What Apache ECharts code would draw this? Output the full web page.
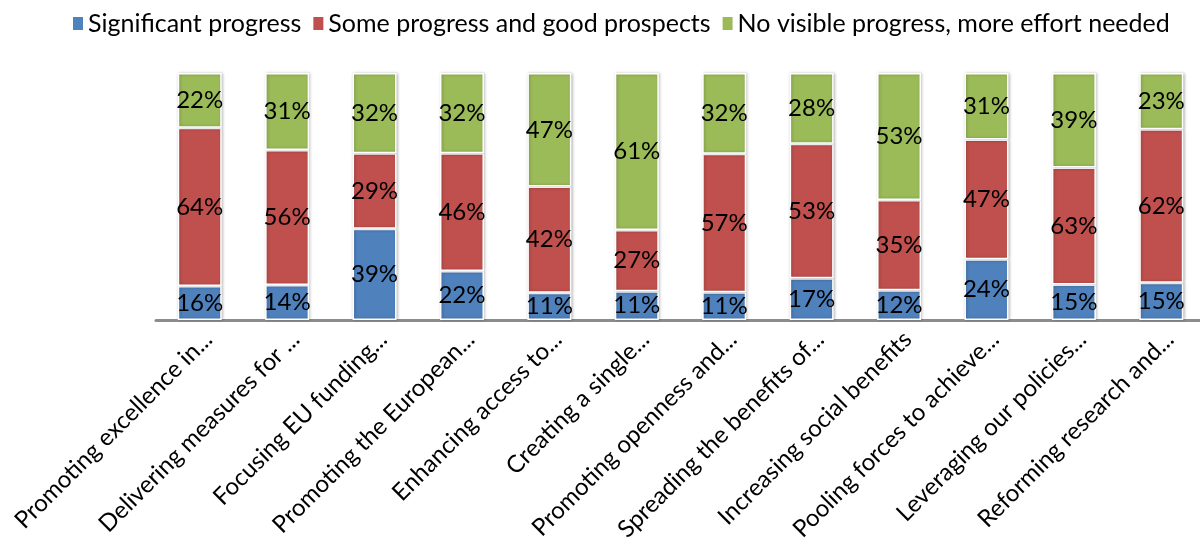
<!DOCTYPE html>
<html>
<head>
<meta charset="utf-8">
<script src="https://cdn.jsdelivr.net/npm/echarts@6/dist/echarts.min.js"></script>
<style>html,body{margin:0;padding:0;background:#fff}#c{width:1200px;height:547px}</style>
</head>
<body>
<div id="c"></div>
<script>
const categories = ["Promoting excellence in...", "Delivering measures for ...", "Focusing EU funding...", "Promoting the European...", "Enhancing access to...", "Creating a single...", "Promoting openness and...", "Spreading the benefits of...", "Increasing social benefits", "Pooling forces to achieve...", "Leveraging our policies...", "Reforming research and..."];
const seriesNames = ["Significant progress", "Some progress and good prospects", "No visible progress, more effort needed"];
// bar heights as drawn (share of the 100% column)
const significant = [13.8, 14.2, 36.9, 19.8, 11.0, 11.6, 11.2, 16.9, 12.0, 24.6, 14.4, 15.1];
const someProgress = [64.0, 54.6, 30.6, 47.7, 43.0, 24.8, 56.1, 54.5, 36.6, 48.5, 47.3, 62.1];
const noProgress = [22.2, 31.2, 32.5, 32.5, 46.0, 63.6, 32.7, 28.6, 51.4, 26.9, 38.3, 22.8];
// percentages printed on the segments
const significantLabels = [16, 14, 39, 22, 11, 11, 11, 17, 12, 24, 15, 15];
const someProgressLabels = [64, 56, 29, 46, 42, 27, 57, 53, 35, 47, 63, 62];
const noProgressLabels = [22, 31, 32, 32, 47, 61, 32, 28, 53, 31, 39, 23];
const colors = ["#4F81BD", "#C0504D", "#9BBB59"];

const FONT = "Lato";
function mk(name, data, labels, color) {
  return {
    name: name, type: "bar", stack: "total", data: data, barWidth: 44,
    itemStyle: { color: color, borderColor: "#ffffff", borderWidth: 1.5,
      shadowColor: "rgba(0,0,0,0.25)", shadowBlur: 3, shadowOffsetX: 1, shadowOffsetY: 0 },
    label: { show: true, position: "inside", color: "#000", fontFamily: FONT, fontSize: 24,
      formatter: p => labels[p.dataIndex] + "%" }
  };
}
const chart = echarts.init(document.getElementById("c"), null, { renderer: "canvas" });
chart.setOption({
  animation: false,
  backgroundColor: "#ffffff",
  legend: {
    top: 6, left: 66, itemWidth: 12, itemHeight: 15, itemGap: 10,
    icon: "rect",
    textStyle: { fontFamily: FONT, fontSize: 25, color: "#000", padding: [0, 0, 0, -1] },
    data: seriesNames
  },
  grid: { left: 156, width: 1049, top: 73, height: 247, containLabel: false, outerBoundsMode: "none" },
  xAxis: {
    type: "category", data: categories,
    axisLine: { lineStyle: { color: "#8C8C8C", width: 3 } },
    axisTick: { show: false },
    axisLabel: { rotate: 45, interval: 0, fontFamily: FONT, fontSize: 24, color: "#000", margin: 7,
      verticalAlign: "top" }
  },
  yAxis: { type: "value", min: 0, max: 100, show: false },
  series: [
    mk(seriesNames[0], significant, significantLabels, colors[0]),
    mk(seriesNames[1], someProgress, someProgressLabels, colors[1]),
    mk(seriesNames[2], noProgress, noProgressLabels, colors[2])
  ]
});
</script>
</body>
</html>
